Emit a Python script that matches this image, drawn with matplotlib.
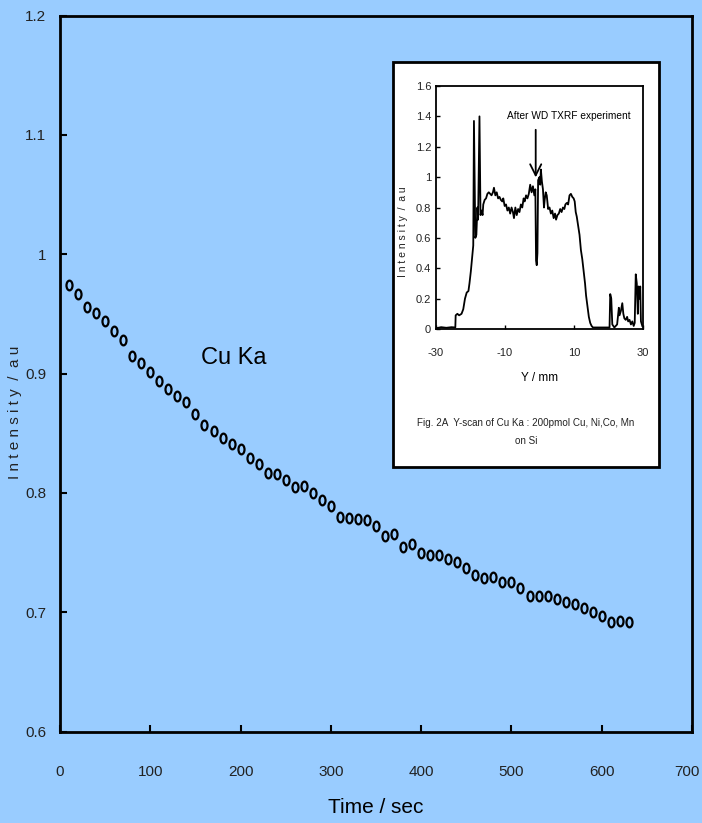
import matplotlib
matplotlib.use("Agg")
import matplotlib.pyplot as plt
import matplotlib.transforms as mtransforms
import numpy as np
from matplotlib.path import Path
from matplotlib.patches import Rectangle

plt.rcParams['font.family'] = ['Liberation Sans Narrow', 'Liberation Sans', 'DejaVu Sans']

# main series: Cu Ka intensity vs time
time_s = [10, 20, 30, 40, 50, 60, 70, 80, 90, 100, 110, 120, 130, 140, 150, 160,
          170, 180, 190, 200, 210, 220, 230, 240, 250, 260, 270, 280, 290, 300, 310,
          320, 330, 340, 350, 360, 370, 380, 390, 400, 410, 420, 430, 440, 450, 460,
          470, 480, 490, 500, 510, 520, 530, 540, 550, 560, 570, 580, 590, 600, 610,
          620, 630]
intensity = [0.974, 0.967, 0.956, 0.951, 0.944, 0.936, 0.928, 0.915, 0.909, 0.901,
             0.894, 0.887, 0.881, 0.876, 0.866, 0.857, 0.852, 0.846, 0.841, 0.837,
             0.829, 0.824, 0.817, 0.816, 0.811, 0.805, 0.806, 0.800, 0.794, 0.789,
             0.780, 0.779, 0.778, 0.777, 0.772, 0.764, 0.766, 0.755, 0.757, 0.750,
             0.748, 0.748, 0.745, 0.742, 0.737, 0.731, 0.729, 0.730, 0.725, 0.725,
             0.720, 0.714, 0.714, 0.714, 0.711, 0.709, 0.707, 0.704, 0.700, 0.697,
             0.692, 0.693, 0.692]
x_ticks = [0, 100, 200, 300, 400, 500, 600, 700]
y_ticks = [0.6, 0.7, 0.8, 0.9, 1.0, 1.1, 1.2]
y_labels = ["0.6", "0.7", "0.8", "0.9", "1", "1.1", "1.2"]

# inset: Y-scan of Cu Ka
scan_y = [-30, -28.5, -27, -25.5, -24.4, -24.3, -23.8, -23.3, -22.6, -22.1, -21.6,
          -21.1, -20.6, -20.3, -19.9, -19.6, -19.4, -19.2, -19.0, -18.6, -18.3, -18.0,
          -17.8, -17.4, -17.1, -16.8, -16.5, -16.3, -15.9, -15.5, -15.1, -14.7, -14.3,
          -13.9, -13.5, -13.2, -12.8, -12.4, -12.0, -11.6, -11.2, -10.8, -10.5, -10.1,
          -9.7, -9.3, -8.9, -8.5, -8.1, -7.7, -7.4, -7.0, -6.6, -6.2, -5.8, -5.4, -5.0,
          -4.6, -4.3, -3.9, -3.5, -3.1, -2.7, -2.3, -1.9, -1.5, -1.2, -1.0, -0.8, -0.6,
          -0.4, 0.0, 0.2, 0.4, 0.7, 1.0, 1.3, 1.5, 1.8, 2.1, 2.5, 2.9, 3.3, 3.7, 4.1,
          4.5, 4.8, 5.2, 5.6, 6.0, 6.4, 6.8, 7.2, 7.5, 7.9, 8.3, 8.7, 9.1, 9.5, 9.9,
          10.2, 10.5, 10.8, 11.2, 11.6, 12.0, 12.4, 12.8, 13.2, 13.5, 13.9, 14.3, 14.7,
          15.1, 15.5, 16.6, 18.6, 20.3, 20.5, 20.8, 21.1, 21.7, 22.5, 23.0, 23.2, 23.6,
          24.0, 24.3, 24.6, 25.0, 25.4, 25.7, 26.1, 26.5, 26.9, 27.3, 27.6, 27.9, 28.2,
          28.5, 28.7, 29.0, 29.2, 29.4, 29.8]
scan_i = [0.005, 0.012, 0.008, 0.012, 0.01, 0.09, 0.1, 0.09, 0.1, 0.13, 0.2,
          0.24, 0.25, 0.3, 0.38, 0.45, 0.5, 0.55, 1.37, 0.6, 0.62, 0.8,
          0.72, 1.4, 0.75, 0.78, 0.75, 0.82, 0.85, 0.86, 0.89, 0.9, 0.89,
          0.88, 0.9, 0.93, 0.88, 0.9, 0.86, 0.87, 0.85, 0.84, 0.86, 0.81,
          0.82, 0.78, 0.8, 0.76, 0.8, 0.77, 0.73, 0.8, 0.75, 0.79, 0.77, 0.82, 0.8,
          0.86, 0.84, 0.88, 0.86, 0.89, 0.95, 0.9, 0.94, 0.88, 0.92, 0.45, 0.42, 0.5,
          0.98, 1.0, 0.95, 1.05, 0.97, 0.92, 0.8, 0.85, 0.9, 0.88, 0.79, 0.8, 0.76, 0.78, 0.73,
          0.76, 0.72, 0.75, 0.76, 0.79, 0.77, 0.8, 0.79, 0.82, 0.83, 0.82, 0.88, 0.89, 0.87, 0.86,
          0.84, 0.77, 0.74, 0.68, 0.62, 0.52, 0.46, 0.38, 0.3, 0.22, 0.15, 0.08, 0.04,
          0.02, 0.01, 0.01, 0.01, 0.01, 0.23, 0.2, 0.03, 0.01, 0.03, 0.14, 0.09, 0.12,
          0.17, 0.1, 0.07, 0.06, 0.08, 0.05, 0.06, 0.03, 0.05, 0.02, 0.04, 0.36, 0.3,
          0.1, 0.28, 0.2, 0.28, 0.05, 0.02]
inset_x_ticks = [-30, -10, 10, 30]
inset_y_ticks = [0, 0.2, 0.4, 0.6, 0.8, 1.0, 1.2, 1.4, 1.6]
inset_y_labels = ["0", "0.2", "0.4", "0.6", "0.8", "1", "1.2", "1.4", "1.6"]

bg = '#99ccff'
fig = plt.figure(figsize=(7.02, 8.23), dpi=100, facecolor=bg)

# main axes
ax = fig.add_axes([0.0855, 0.111, 0.9003, 0.870], facecolor=bg)
circ = Path.unit_circle()
oval = Path(circ.vertices * np.array([0.62, 1.0]), circ.codes)
ax.plot(time_s, intensity, linestyle='none', marker=oval, markersize=7,
        markerfacecolor='none', markeredgecolor='black', markeredgewidth=1.6)
ax.set_xlim(0, 700)
ax.set_ylim(0.6, 1.2)
ax.set_xticks(x_ticks)
ax.set_yticks(y_ticks)
ax.set_yticklabels(y_labels)
for s in ax.spines.values():
    s.set_linewidth(2)
ax.tick_params(direction='in', length=5, width=1.5, labelsize=11, colors='black',
               labelcolor='#222222')
ax.tick_params(axis='x', pad=24)
ax.tick_params(axis='y', pad=10)
# keep the last x label inside the figure
last = ax.get_xticklabels()[-1]
last.set_transform(last.get_transform() +
                   mtransforms.ScaledTranslation(-5 / 100, 0, fig.dpi_scale_trans))
ax.set_xlabel('Time / sec', fontsize=15, labelpad=14)
fig.text(15 / 702, 1 - 412 / 823, 'I n t e n s i t y  /  a u', rotation=90, fontsize=11,
         ha='center', va='center', color='#222222')
ax.text(192, 0.913, 'Cu Ka', fontsize=17, ha='center', va='center')

# inset frame
fig.patches.append(Rectangle((393 / 702, 1 - 467 / 823), 266 / 702, 405 / 823,
                             transform=fig.transFigure, facecolor='white',
                             edgecolor='black', linewidth=2, zorder=2))

ins = fig.add_axes([436 / 702, 1 - 329 / 823, 207 / 702, 243 / 823], facecolor='white')
ins.set_zorder(3)
ins.plot(scan_y, scan_i, color='black', linewidth=1.3)
ins.set_xlim(-30, 30)
ins.set_ylim(0, 1.6)
ins.set_xticks(inset_x_ticks)
ins.set_xticklabels(["-30", "-10", "10", "30"])
ins.set_yticks(inset_y_ticks)
ins.set_yticklabels(inset_y_labels)
for s in ins.spines.values():
    s.set_linewidth(1.3)
ins.tick_params(direction='in', length=3, width=1, labelsize=8, labelcolor='#222222')
ins.tick_params(axis='x', pad=14)
ins.set_xlabel('Y / mm', fontsize=8.5, labelpad=10)
ins.annotate('', xy=(-1.1, 0.98), xytext=(-1.1, 1.33),
             arrowprops=dict(arrowstyle='->', color='black', lw=1.3, mutation_scale=20))
ins.text(8.4, 1.4, 'After WD TXRF experiment', fontsize=7.3, ha='center', va='center')
fig.text(403 / 702, 1 - 232 / 823, 'I n t e n s i t y  /  a u', rotation=90, fontsize=7.5,
         ha='center', va='center', color='#222222', zorder=5)
fig.text(526 / 702, 1 - 432 / 823, 'Fig. 2A  Y-scan of Cu Ka : 200pmol Cu, Ni,Co, Mn\non Si',
         fontsize=7.1, ha='center', va='center', linespacing=2.1, color='#222222', zorder=5)

fig.savefig('out.png', dpi=100, facecolor=bg)
